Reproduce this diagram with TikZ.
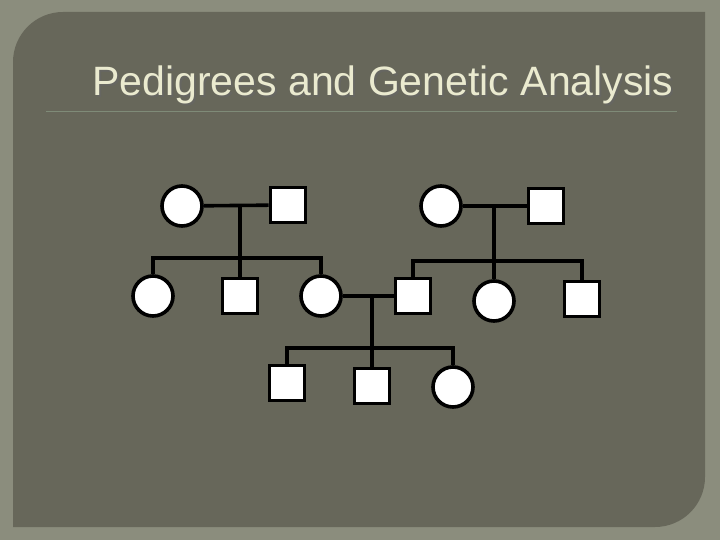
\documentclass[tikz,border=0pt]{standalone}
\usepackage{fontspec}
\setmainfont{Liberation Sans}
\definecolor{slideouter}{HTML}{8B8D7D}
\definecolor{slidepanel}{HTML}{67675A}
\definecolor{titlecol}{HTML}{EAEACF}
\definecolor{rulecol}{HTML}{7F8B78}
\tikzset{
  female/.style={circle, draw=black, fill=white, line width=3.6pt, minimum size=40pt, inner sep=0pt},
  male/.style={rectangle, draw=black, fill=white, line width=3.6pt, minimum size=35pt, inner sep=0pt},
  link/.style={line width=3.6pt, black}
}
\begin{document}
\begin{tikzpicture}[x=1pt,y=-1pt]

    % slide background
    \fill[slideouter] (0,0) rectangle (720,540);
    \fill[slidepanel] (13,527) -- (13,62) arc[start angle=180, end angle=270, radius=50] -- (705,12) -- (705,477) arc[start angle=0, end angle=90, radius=50] -- cycle;
    \useasboundingbox (0,0) rectangle (720,540);

    % title
    \node[anchor=base east, font=\fontsize{41}{46}\selectfont, text=black!60, opacity=0.6] at (679,98) {Pedigrees and Genetic Analysis};
    \node[anchor=base east, font=\fontsize{41}{46}\selectfont, text=titlecol] (title) at (677,96) {Pedigrees and Genetic Analysis};
    \draw[rulecol, line width=1pt] (46,112) -- (677,112);

    % first generation
    \node[female] (f1) at (182,206) {};
    \node[male] (m1) at (288,205) {};
    \node[female] (f2) at (441,206) {};
    \node[male] (m2) at (546,206) {};

    % second generation
    \node[female] (c1) at (153,296) {};
    \node[male] (c2) at (240,296) {};
    \node[female] (c3) at (321,296) {};
    \node[male] (c4) at (413,296) {};
    \node[female] (c5) at (494,301) {};
    \node[male] (c6) at (582,299) {};

    % third generation
    \node[male] (g1) at (287,383) {};
    \node[male] (g2) at (372,386) {};
    \node[female] (g3) at (453,387) {};

    % matings and sibships
    \draw[link] (f1) -- (m1);
    \draw[link] (f2) -- (m2);
    \draw[link] (c3) -- (c4);
    \coordinate (j1) at (240,205);
    \coordinate (j2) at (494,206);
    \coordinate (j3) at (372,296);
    \draw[link] (j1) -- (240,258);
    \draw[link] (c1.north) |- (240,258) -| (c3.north);
    \draw[link] (240,258) -- (c2.north);
    \draw[link] (j2) -- (494,261);
    \draw[link] (c4.north) |- (494,261) -| (c6.north);
    \draw[link] (494,261) -- (c5.north);
    \draw[link] (j3) -- (372,348);
    \draw[link] (g1.north) |- (372,348) -| (g3.north);
    \draw[link] (372,348) -- (g2.north);
\end{tikzpicture}
\end{document}
